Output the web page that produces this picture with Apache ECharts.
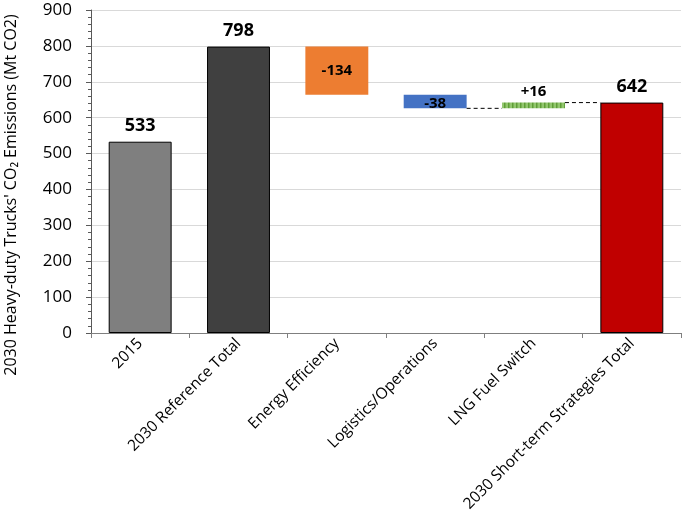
<!DOCTYPE html>
<html>
<head>
<meta charset="utf-8">
<script src="https://cdn.jsdelivr.net/npm/echarts@6/dist/echarts.min.js"></script>
<style>
  html, body { margin: 0; padding: 0; background: #fff; }
  #main { width: 685px; height: 525px; }
</style>
</head>
<body>
<div id="main"></div>
<script>
// 数据
var categories = ['2015', '2030 Reference Total', 'Energy Efficiency', 'Logistics/Operations', 'LNG Fuel Switch', '2030 Short-term Strategies Total'];
var steps = [533, 798, -134, -38, 16, 642];
var isTotal = [true, true, false, false, false, true];
var barColors = ['#7f7f7f', '#404040', '#ed7d31', '#4472c4', 'hatch', '#c00000'];
var yTicks = [0, 100, 200, 300, 400, 500, 600, 700, 800, 900];

var font = '"Open Sans", "Liberation Sans", sans-serif';

// 绿色竖条纹
function makeHatch() {
    var c = document.createElement('canvas');
    c.width = 4; c.height = 4;
    var ctx = c.getContext('2d');
    ctx.fillStyle = '#92c66e';
    ctx.fillRect(0, 0, 4, 4);
    ctx.fillStyle = '#5f9e36';
    ctx.fillRect(0, 0, 1.5, 4);
    return c;
}

// 计算瀑布图的底部和高度
var baseData = [], valueData = [];
var level = 0;
for (var i = 0; i < steps.length; i++) {
    var col = barColors[i] === 'hatch' ? { image: makeHatch(), repeat: 'repeat' } : barColors[i];
    var border = isTotal[i] ? { borderColor: '#000', borderWidth: 1 } : { borderWidth: 0 };
    var base, h;
    if (isTotal[i]) {
        base = 0; h = steps[i]; level = steps[i];
    } else if (steps[i] < 0) {
        base = level + steps[i]; h = -steps[i]; level = base;
    } else {
        base = level; h = steps[i]; level = level + steps[i];
    }
    baseData.push(base);
    var inside = !isTotal[i] && steps[i] < 0;
    valueData.push({
        value: h,
        raw: steps[i],
        itemStyle: Object.assign({ color: col }, border),
        label: {
            position: inside ? 'inside' : 'top',
            fontSize: isTotal[i] ? 18 : 15,
            distance: isTotal[i] ? 7 : 3,
            offset: i === 3 ? [0, 2] : [0, 0]
        }
    });
}

// 虚线连接线 (逻辑->LNG, LNG->总计)
var barFrac = 0.64;
function connector(fromIdx, toIdx, yv) {
    return [[fromIdx + 0.5 + barFrac / 2, yv], [toIdx + 0.5 - barFrac / 2, yv]];
}
var lvl3 = baseData[3];
var lvl4 = baseData[4] + valueData[4].value;

var myChart = echarts.init(document.getElementById('main'));
var option = {
    backgroundColor: '#fff',
    animation: false,
    textStyle: { fontFamily: font },
    grid: { left: 91, right: 4, top: 10, bottom: 192 },
    graphic: [{
        type: 'text',
        x: 11,
        y: 195,
        rotation: Math.PI / 2,
        style: {
            text: "2030 Heavy-duty Trucks' CO\u2082 Emissions (Mt CO2)",
            font: '16px ' + font,
            fill: '#000',
            align: 'center',
            verticalAlign: 'middle'
        }
    }],
    xAxis: [{
        type: 'category',
        data: categories,
        boundaryGap: true,
        axisLine: { lineStyle: { color: '#7f7f7f', width: 1 } },
        axisTick: { show: true, interval: 0, length: 5, lineStyle: { color: '#7f7f7f' } },
        axisLabel: { interval: 0, rotate: 45, color: '#000', fontSize: 15.5, fontFamily: font, margin: 8 },
        splitLine: { show: false }
    }, {
        type: 'value',
        min: 0,
        max: categories.length,
        show: false
    }],
    yAxis: {
        type: 'value',
        min: yTicks[0],
        max: yTicks[yTicks.length - 1],
        interval: 100,
        axisLine: { show: true, lineStyle: { color: '#595959' } },
        axisTick: { show: true, length: 5, lineStyle: { color: '#595959' } },
        minorTick: { show: true, splitNumber: 5, length: 3, lineStyle: { color: '#595959' } },
        axisLabel: { color: '#000', fontSize: 17, fontFamily: font, margin: 19 },
        splitLine: { show: true, lineStyle: { color: '#d9d9d9', width: 1 } }
    },
    series: [{
        type: 'bar',
        stack: 'w',
        barWidth: (barFrac * 100) + '%',
        itemStyle: { color: 'transparent' },
        silent: true,
        data: baseData
    }, {
        type: 'bar',
        stack: 'w',
        barWidth: (barFrac * 100) + '%',
        label: {
            show: true,
            color: '#000',
            fontWeight: 'bold',
            fontFamily: font,
            formatter: function (p) {
                var r = p.data.raw;
                if (isTotal[p.dataIndex]) return String(r);
                return r > 0 ? '+' + r : String(r);
            }
        },
        data: valueData
    }, {
        type: 'line',
        xAxisIndex: 1,
        symbol: 'none',
        lineStyle: { color: '#000', width: 1, type: [4, 3] },
        data: connector(3, 4, lvl3)
    }, {
        type: 'line',
        xAxisIndex: 1,
        symbol: 'none',
        lineStyle: { color: '#000', width: 1, type: [4, 3] },
        data: connector(4, 5, lvl4)
    }]
};

if (option && typeof option === "object") {
    myChart.setOption(option);
}
</script>
</body>
</html>
